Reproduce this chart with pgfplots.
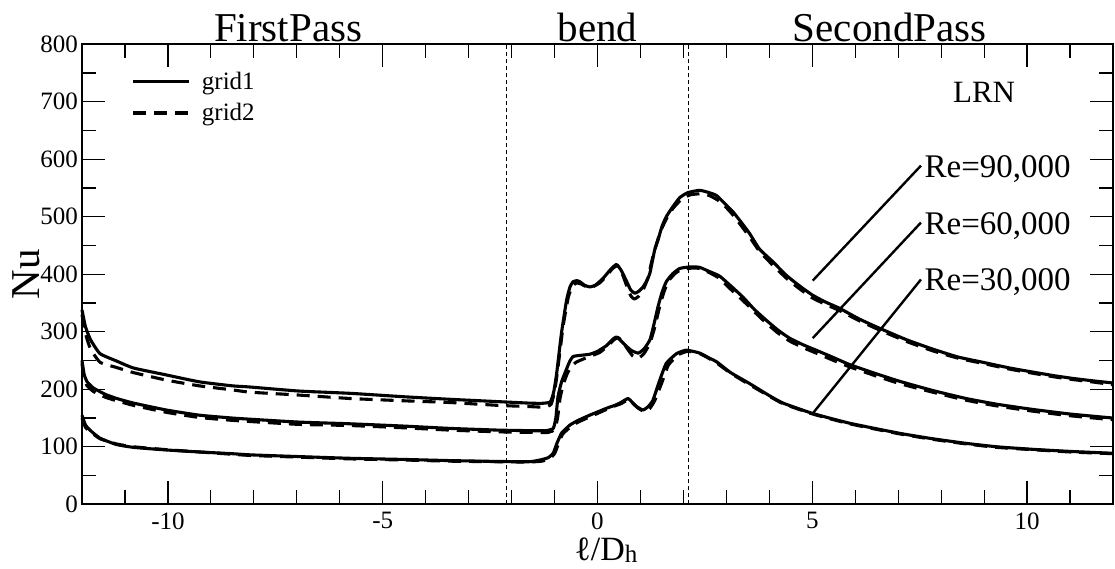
\documentclass[border=0pt]{standalone}
\usepackage{fontspec}
\setmainfont{Liberation Serif}
\usepackage{pgfplots}
\pgfplotsset{compat=1.18}

\begin{document}
\begin{tikzpicture}[x=1bp,y=1bp]
\path[use as bounding box] (-82,-64.7) rectangle (1033,504.3);
\begin{axis}[
  at={(0,0)}, anchor=south west,
  scale only axis, width=1031bp, height=460bp,
  xmin=-12, xmax=12, ymin=0, ymax=800,
  clip=false,
  xtick={-10,-5,0,5,10}, xticklabels={-10,-5,0,5,10},
  minor xtick={-11,-9,-8,-7,-6,-4,-3,-2,-1,1,2,3,4,6,7,8,9,11},
  ytick={0,100,200,300,400,500,600,700,800},
  yticklabels={0,100,200,300,400,500,600,700,800},
  minor ytick={50,150,250,350,450,550,650,750},
  tick align=inside,
  major tick length=23bp, minor tick length=14bp,
  axis line style={line width=2bp},
  every tick/.append style={black, line width=1.2bp},
  every minor tick/.append style={black, line width=1.2bp},
  tick label style={font=\fontsize{25bp}{25bp}\selectfont, inner sep=0pt},
  xticklabel style={yshift=-8bp},
  yticklabel style={xshift=-4bp},
  legend style={draw=none, fill=none, inner sep=0pt, outer sep=0pt,
    at={(axis cs:-10.84,800)}, anchor=north west, yshift=-27.4bp,
    row sep=13bp, column sep=11bp,
    font=\fontsize{25bp}{25bp}\selectfont,
    nodes={inner sep=0pt, anchor=west}},
  legend image code/.code={\draw[#1] (0bp,0bp) -- (56bp,0bp);},
  every axis plot/.append style={black, line width=3.1bp, line join=round},
]
% Re = 90,000, grid1
\addplot[solid, smooth, tension=0.3] coordinates {
(-12.0,338) (-11.92,309) (-11.8,286) (-11.58,262) (-11.19,249) (-10.8,237)
(-10.04,225) (-9.27,213) (-8.5,206) (-8.09,204) (-6.96,197) (-5.76,193)
(-4.5,187) (-3.43,182.6) (-2.3,178.5) (-1.6,176) (-1.3,175.6) (-1.1,178)
(-1.02,195) (-0.95,228) (-0.84,297) (-0.72,355) (-0.64,378) (-0.57,387)
(-0.48,389) (-0.41,387) (-0.3,381) (-0.18,378) (-0.05,381) (0.13,393)
(0.3,408) (0.44,417) (0.55,407) (0.67,389) (0.77,373) (0.87,367)
(0.97,371) (1.06,378) (1.14,388) (1.22,402) (1.33,442) (1.41,460)
(1.5,483) (1.6,500) (1.73,515) (1.91,533) (2.1,542) (2.38,546)
(2.6,542) (2.77,537) (2.95,524) (3.15,509) (3.35,490) (3.54,471)
(3.77,444) (4.08,422) (4.4,398) (4.7,380) (5.0,364) (5.3,352)
(5.63,341) (6.1,322) (6.57,306) (7.2,286) (7.8,270) (8.4,256)
(8.97,247) (9.6,237) (10.13,230) (10.6,224) (11.06,219) (11.5,215) (12.0,211)
};
\addlegendentry{grid1}
% Re = 90,000, grid2
\addplot[dash pattern=on 13bp off 8bp, smooth, tension=0.3] coordinates {
(-12.0,330) (-11.9,292) (-11.8,270) (-11.58,247) (-11.2,238) (-10.8,229)
(-10.04,216) (-9.27,206) (-8.5,199) (-8.09,195) (-6.96,190) (-5.76,184)
(-4.5,180) (-3.43,177) (-2.3,172) (-1.6,170) (-1.25,169) (-1.08,174)
(-0.99,200) (-0.9,250) (-0.8,310) (-0.68,360) (-0.58,380) (-0.48,385)
(-0.38,383) (-0.25,378) (-0.12,378) (0.05,385) (0.2,396) (0.35,410)
(0.47,415) (0.58,400) (0.69,378) (0.78,362) (0.86,357) (0.96,362)
(1.08,376) (1.18,395) (1.27,425) (1.37,452) (1.47,475) (1.6,496)
(1.75,514) (1.95,530) (2.15,538) (2.38,540) (2.6,537) (2.8,529)
(3.0,516) (3.2,499) (3.54,465) (3.77,440) (4.08,416) (4.4,393)
(4.7,375) (5.0,359) (5.3,348) (5.63,337) (6.1,319) (6.57,303)
(7.2,283) (7.8,267) (8.4,254) (8.97,245) (9.6,235) (10.13,228)
(10.6,222) (11.06,217) (11.5,213) (12.0,208)
};
\addlegendentry{grid2}
% Re = 60,000, grid1
\addplot[solid, smooth, tension=0.3, forget plot] coordinates {
(-12.0,250) (-11.95,226) (-11.88,213) (-11.73,202) (-11.45,191) (-11.19,184)
(-10.8,176) (-10.04,164) (-9.27,155) (-8.5,150) (-8.09,148) (-6.96,143)
(-5.76,140) (-4.5,136) (-3.43,132) (-2.3,129) (-1.5,128) (-1.2,128)
(-1.03,132) (-0.97,150) (-0.92,187) (-0.84,212) (-0.76,228) (-0.65,248)
(-0.57,257) (-0.4,259) (-0.18,261) (0.0,266) (0.21,276) (0.34,286)
(0.44,291) (0.55,284) (0.67,275) (0.8,267) (0.95,263) (1.08,270)
(1.22,286) (1.32,315) (1.41,344) (1.5,368) (1.6,387) (1.75,401)
(1.91,410) (2.05,412) (2.22,413) (2.38,412) (2.6,405) (2.84,397)
(3.1,380) (3.39,360) (3.65,339) (3.93,320) (4.2,303) (4.47,289)
(4.8,277) (5.09,268) (5.5,255) (5.87,243) (6.45,228) (7.03,214)
(7.8,198) (8.58,184) (9.3,174) (10.13,165) (11.0,157) (12.0,150)
};
% Re = 60,000, grid2
\addplot[dash pattern=on 13bp off 8bp, smooth, tension=0.3, forget plot] coordinates {
(-12.0,245) (-11.95,218) (-11.88,206) (-11.73,196) (-11.45,186) (-11.19,180)
(-10.8,172) (-10.04,160) (-9.27,151) (-8.5,146) (-8.09,144) (-6.96,139)
(-5.76,137) (-4.5,133) (-3.43,129) (-2.3,126) (-1.5,125) (-1.15,125)
(-1.0,130) (-0.93,150) (-0.87,185) (-0.79,210) (-0.7,228) (-0.6,240)
(-0.5,247) (-0.35,252) (-0.15,258) (0.05,264) (0.25,276) (0.38,286)
(0.48,290) (0.58,283) (0.7,270) (0.82,258) (0.95,254) (1.08,262)
(1.22,280) (1.34,310) (1.45,345) (1.55,370) (1.65,388) (1.8,401)
(1.95,408) (2.22,411) (2.38,410) (2.6,403) (2.84,393) (3.1,374)
(3.39,354) (3.65,335) (3.93,315) (4.2,298) (4.47,284) (4.8,272)
(5.09,263) (5.5,250) (5.87,239) (6.45,224) (7.03,210) (7.8,195)
(8.58,181) (9.3,171) (10.13,162) (11.0,154) (12.0,147)
};
% Re = 30,000, grid1
\addplot[solid, smooth, tension=0.3, forget plot] coordinates {
(-12.0,155) (-11.92,138) (-11.8,128) (-11.58,115) (-11.2,104) (-10.8,99)
(-10.04,94.5) (-9.27,91) (-8.5,88) (-8.09,86) (-6.96,83) (-5.76,80)
(-4.5,78) (-3.43,76) (-2.3,74.5) (-1.6,74) (-1.34,77) (-1.15,81)
(-1.03,89) (-0.95,105) (-0.84,123.5) (-0.74,131) (-0.64,138) (-0.45,146)
(-0.18,155) (0.21,167) (0.4,172) (0.52,176) (0.71,184) (0.8,178)
(0.91,170) (1.06,164) (1.18,170) (1.29,181) (1.45,216) (1.6,245)
(1.84,262) (2.07,268) (2.38,263) (2.61,254) (2.77,248) (3.1,229)
(3.54,210) (4.0,189) (4.32,176) (5.01,158) (5.87,141) (7.03,123.5)
(7.8,114) (8.58,106) (9.3,100) (10.13,95.6) (11.0,92) (12.0,88.7)
};
% Re = 30,000, grid2
\addplot[dash pattern=on 13bp off 8bp, smooth, tension=0.3, forget plot] coordinates {
(-12.0,150) (-11.92,134) (-11.8,126) (-11.58,114) (-11.2,105) (-10.8,100)
(-10.04,95) (-9.27,91) (-8.5,87) (-8.09,85) (-6.96,82) (-5.76,79)
(-4.5,77) (-3.43,75) (-2.3,74) (-1.6,73.5) (-1.3,75) (-1.12,79)
(-1.0,88) (-0.92,103) (-0.82,121) (-0.7,130) (-0.6,136) (-0.45,143)
(-0.18,152) (0.21,165) (0.4,171) (0.55,175) (0.72,182) (0.83,175)
(0.95,167) (1.1,161) (1.22,167) (1.33,180) (1.5,212) (1.65,242)
(1.88,260) (2.1,266) (2.38,262) (2.61,253) (2.77,246) (3.1,228)
(3.54,208) (4.0,188) (4.32,175) (5.01,157) (5.87,140) (7.03,122.5)
(7.8,113) (8.58,105) (9.3,99) (10.13,95) (11.0,91) (12.0,88)
};
% section boundaries
\addplot[forget plot, line width=1bp, dash pattern=on 4bp off 3bp] coordinates {(-2.12,0) (-2.12,800)};
\addplot[forget plot, line width=1bp, dash pattern=on 4bp off 3bp] coordinates {(2.12,0) (2.12,800)};
% pointer lines
\addplot[forget plot, solid, line width=2.4bp] coordinates {(5.01,389) (7.53,589)};
\addplot[forget plot, solid, line width=2.4bp] coordinates {(5.01,289) (7.53,490)};
\addplot[forget plot, solid, line width=2.4bp] coordinates {(5.01,158) (7.53,391)};
% labels
\node[anchor=base west, font=\fontsize{33bp}{33bp}\selectfont, inner sep=0pt] at (axis cs:7.61,569) {Re=90,000};
\node[anchor=base west, font=\fontsize{33bp}{33bp}\selectfont, inner sep=0pt] at (axis cs:7.61,470) {Re=60,000};
\node[anchor=base west, font=\fontsize{33bp}{33bp}\selectfont, inner sep=0pt] at (axis cs:7.61,371.5) {Re=30,000};
\node[anchor=base, font=\fontsize{31bp}{31bp}\selectfont, inner sep=0pt] at (axis cs:9.0,698) {LRN};
% section titles
\node[anchor=base, font=\fontsize{41bp}{41bp}\selectfont, inner sep=0pt] at ([yshift=2.6bp]axis cs:-7.2,800) {FirstPass};
\node[anchor=base, font=\fontsize{41bp}{41bp}\selectfont, inner sep=0pt] at ([yshift=2.6bp]axis cs:0,800) {bend};
\node[anchor=base, font=\fontsize{41bp}{41bp}\selectfont, inner sep=0pt] at ([yshift=2.6bp]axis cs:6.8,800) {SecondPass};
% axis labels
\node[rotate=90, anchor=center, font=\fontsize{41bp}{41bp}\selectfont, inner sep=0pt] at ([xshift=-56bp]rel axis cs:0,0.5) {Nu};
\node[anchor=base, font=\fontsize{34bp}{34bp}\selectfont, inner sep=0pt] at ([yshift=-56.7bp]axis cs:0.2,0) {ℓ/D\raisebox{-2bp}{\fontsize{25bp}{25bp}\selectfont h}};
\end{axis}
\end{tikzpicture}
\end{document}
